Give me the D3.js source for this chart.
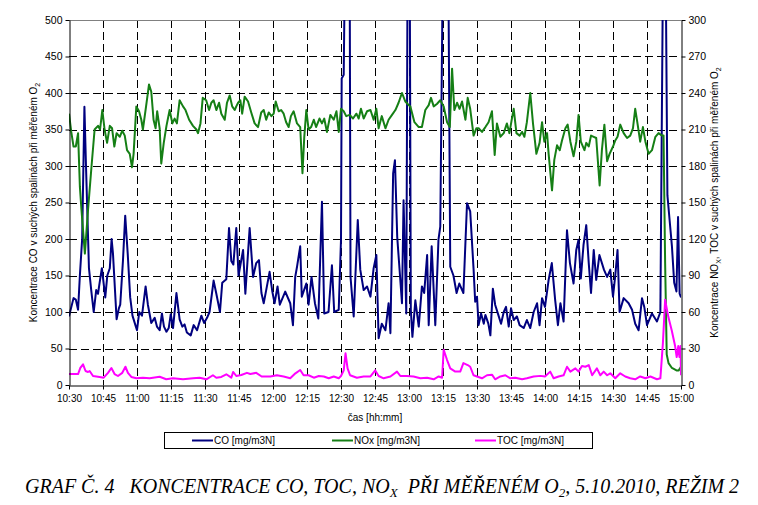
<!DOCTYPE html>
<html>
<head>
<meta charset="utf-8">
<script src="https://cdn.jsdelivr.net/npm/d3@7"></script>
<style>
  body { margin: 0; background: #fff; }
  text { font-family: "Liberation Sans", Arial, sans-serif; }
</style>
</head>
<body>
<svg id="chart" width="758" height="505"></svg>
<script>
// minutes after 10:30, value
const coData = [[0,94],[2,119],[3,117],[4,103],[4.8,150],[5.8,200],[6.8,381],[7.5,300],[8.8,160],[9.8,130],[10.9,100],[12,130],[12.8,125],[13.5,140],[14.5,160],[16,120],[16.9,150],[18,160],[18.8,200],[19.4,180],[21,90],[22,105],[22.6,110],[23.8,170],[24.8,232],[25.9,180],[27,120],[28,95],[29.5,80],[30,75],[31,100],[32.2,95],[33.8,135],[34.8,110],[36.3,85],[37.8,92],[38.8,80],[40,75],[41,98],[41.9,80],[43,73],[44,78],[44.9,97],[45.9,78],[47.4,126],[48.8,90],[50,80],[51,83],[52,72],[53.7,68],[55,82],[56.5,75],[58.4,95],[59.6,85],[60.9,92],[62,100],[63.8,143],[65,125],[66.6,100],[67.6,140],[69.4,145],[70.6,215],[71.6,170],[72.5,165],[73.8,215],[74.8,150],[76.8,185],[77.8,125],[79.7,215],[81.2,148],[82.6,167],[83.8,171],[84.9,126],[85.9,112],[87,130],[88.5,155],[89.7,128],[90.7,112],[92,135],[93,110],[95.4,128],[97.6,112],[98.8,82],[99.8,148],[100.6,162],[102,190],[102.7,121],[104.7,139],[105.7,110],[107,148],[108.5,112],[110,91],[111.6,251],[112.6,98],[114.5,100],[116,164],[117,100],[119,103],[120,199],[120.3,420],[121.2,425],[121.8,600],[123.8,600],[124.2,148],[125.6,94],[127.4,226],[128.5,158],[130,130],[131.5,135],[133,121],[134.4,160],[135.6,178],[136.6,64],[138,84],[139.6,75],[141,112],[141.8,71],[143,290],[143.8,308],[144.8,203],[146.9,112],[147.6,253],[148.8,98],[149.4,600],[150.3,600],[150.8,103],[151.5,66],[152.8,116],[154.3,80],[155.7,135],[156.7,126],[158,178],[158.7,82],[160,190],[161.6,82],[163,199],[163.8,217],[165,600],[167.3,600],[168.2,162],[169.6,150],[171,126],[172.2,139],[174,126],[175.6,249],[177,238],[178.5,158],[179.2,114],[180,121],[180.7,82],[181.8,98],[183,84],[183.7,96],[185,84],[185.9,68],[187,132],[188,110],[189.4,96],[190.6,84],[191.8,100],[192.8,107],[194,80],[195,105],[196.2,89],[197.6,94],[198.8,82],[200.6,78],[202,89],[203.5,78],[205,100],[206.5,112],[207.6,82],[208.7,119],[210,107],[211.6,144],[213,167],[214.5,116],[215.7,82],[216.8,112],[218.2,87],[219.7,212],[221,167],[222.6,139],[223.8,185],[224.8,199],[225.8,146],[227,192],[228.2,219],[229.3,167],[230.3,126],[231.5,185],[232.6,144],[234,178],[236,158],[237.4,148],[238.8,158],[240,121],[241,150],[242,185],[242.9,100],[244.7,119],[246.9,112],[248.4,103],[249.8,84],[251.3,75],[252.8,119],[253.8,107],[255,82],[257.2,98],[259.4,87],[260.9,100],[262,550],[263.3,550],[264,260],[265,225],[266,190],[267,140],[268,128],[268.7,230],[269.4,125],[270,120]];

const noxData = [[0,223],[1,208],[2,196],[3,196],[4,207],[4.8,163],[5.5,144],[7,108],[8.4,144],[9.9,179],[11.3,210],[12.8,213],[13.7,210],[14.7,226],[15.7,210],[16.8,199],[18,213],[19,211],[20,196],[21,207],[22.4,204],[23.5,209],[24.6,205],[25.6,193],[26.8,190],[27.8,179],[28.5,190],[29.7,229],[30.9,225],[31.9,218],[32.6,210],[34,229],[35.3,247],[36.3,241],[37.3,218],[38.2,211],[38.9,225],[40,211],[40.7,182],[41.8,199],[43,213],[44.4,226],[45.6,215],[46.6,219],[47.6,215],[48.8,234],[50.3,229],[51.4,226],[53,218],[54.7,213],[56.2,210],[56.9,207],[58,215],[59,236],[60.5,234],[61.8,226],[62.8,232],[63.8,234],[65,226],[66.2,232],[67.2,223],[68.7,218],[69.7,232],[70.9,238],[72,229],[73.1,226],[73.8,229],[74.6,232],[75.6,234],[76.4,223],[77.5,237],[79,233],[80.4,224],[81.9,215],[83.4,212],[84.8,224],[85.9,226],[87,218],[88.1,224],[89.3,221],[90.3,223],[91.2,233],[92.5,225],[93.6,226],[94.7,223],[95.8,216],[96.9,212],[97.9,221],[99.1,225],[100.6,215],[102,212],[103,174],[103.8,204],[104.7,226],[105.7,210],[106.8,212],[108,218],[109,212],[110.5,219],[111.6,215],[112.6,219],[113.8,208],[115.3,222],[116.8,218],[118,225],[119,208],[120,227],[121.2,225],[122.3,221],[123.8,222],[125.3,219],[126.8,223],[127.8,219],[128.8,227],[130,219],[131.5,225],[133,226],[134.4,218],[135.6,227],[136.6,211],[138,221],[139.6,211],[141,218],[142.5,222],[144,226],[145.4,232],[146.9,240],[148.4,233],[149.4,231],[150.6,229],[152.4,216],[154.3,212],[155.7,212],[157.2,226],[158.7,230],[159.7,236],[160.9,229],[162.3,231],[163.8,234],[165.3,229],[166.8,216],[168,212],[169,260],[170,226],[171.2,232],[172.3,227],[173.4,233],[174.9,218],[175.9,236],[177,227],[178.5,205],[179.7,211],[180.7,211],[182.2,208],[183.7,212],[185.1,216],[186.6,225],[187.8,189],[188.8,215],[190.3,204],[191.8,207],[193.2,215],[194.3,207],[195.4,219],[196.2,227],[197.4,207],[198.8,205],[199.9,208],[200.9,204],[202,216],[203.5,240],[204.7,215],[206.2,190],[207.6,199],[208.7,216],[209.7,200],[210.9,207],[211.6,190],[213.1,160],[214.1,185],[215.3,197],[216.5,193],[217.5,201],[219,211],[220,214],[221.2,200],[222.6,188],[223.8,200],[224.8,222],[225.8,200],[227.4,193],[228.2,199],[229.3,196],[230.3,205],[231.5,204],[232.6,203],[234.1,164],[235.1,193],[236.2,214],[237.4,184],[238.5,190],[240,196],[241,201],[242,204],[243.2,214],[244.7,207],[246.2,203],[247.6,205],[248.8,211],[249.8,227],[250.8,215],[252,200],[253.2,212],[254.3,200],[255.7,190],[257.2,193],[258.7,204],[260.1,207],[261.6,205],[262.3,205],[263,100],[263.7,25],[264.5,18],[266,14],[268,12],[269,12],[270,15]];

const tocData = [[0,9],[2,9],[4,9],[5,14],[6.2,17],[7.3,11.5],[8.4,10.7],[9.1,11.5],[10.6,7.4],[13.5,6.6],[15.3,6],[17.2,10],[18.7,14],[20.1,9],[21.6,7.4],[23.5,10],[24.9,15],[26,10],[27.5,6.6],[29.7,5.5],[32.6,6],[35.6,5.5],[40,6.8],[42.9,4.7],[45.9,5.5],[50.3,4.7],[54.7,5.5],[57.6,6],[60.6,4.7],[63.5,8],[65,6],[67.2,6.6],[69.4,8.8],[71.6,6],[72.4,10.7],[73.8,7.4],[76,8.2],[78.5,10],[80,9],[82.6,10],[85,7],[88.8,7],[91.7,8],[94.7,7],[97.6,5.5],[99.9,9.6],[102,12.3],[103.5,8],[105.7,8],[108,6],[110.2,7.4],[112.4,7],[114.6,5.5],[116.8,7],[119,5.5],[120,7.4],[121.2,12],[122,26],[122.9,13.7],[124,8],[127,6],[130,7],[133,7],[135.1,12],[136.6,7.4],[138.8,5.5],[141.8,7],[144.7,11],[146.2,7.4],[149.1,7.4],[152,7],[155,5.5],[158,6],[160.9,4.7],[163.1,7],[164.6,6],[165.3,29],[166.8,20.5],[168.2,13.7],[170.4,11],[172.6,11],[174,18],[175.9,16.4],[177,15],[178.5,8],[180,7],[182.2,5.5],[184.4,8],[186.6,8.5],[188,4.7],[190.3,7],[192.5,8],[194.7,5.5],[196.9,6],[199.9,4.7],[202,5.5],[205,7],[208,7.5],[210,7],[212.3,11],[213.8,5.5],[216,7],[218.2,8],[219.7,15],[221.2,11],[223.4,13.7],[224.8,11],[226.3,15.6],[227.8,15],[229.3,16.4],[230.8,8],[232.9,13.7],[234.4,8],[235.9,11],[237.4,8],[238.8,9.6],[241,5.5],[243.2,9.6],[245.4,7],[247.6,5.5],[249.8,4.7],[252,7],[254.3,5.5],[256.5,7],[259.4,4.7],[260.9,5.5],[262,34],[263,70],[264.4,56],[265.9,45],[267.4,32],[268.1,23],[268.8,32],[269.3,23],[269.8,32],[270,8]];

const timeLabels = ["10:30","10:45","11:00","11:15","11:30","11:45","12:00","12:15","12:30","12:45","13:00","13:15","13:30","13:45","14:00","14:15","14:30","14:45","15:00"];
const leftTicks = [0,50,100,150,200,250,300,350,400,450,500];
const rightTicks = [0,30,60,90,120,150,180,210,240,270,300];
const seriesNames = ["CO [mg/m3N]","NOx [mg/m3N]","TOC [mg/m3N]"];
const seriesColors = ["#00007f","#157f15","#ff00ff"];

const svg = d3.select("#chart");
const plotLeft = 69, plotRight = 681, plotTop = 20, plotBottom = 385;

const x = d3.scaleLinear().domain([0, 270]).range([plotLeft, plotRight]);
const yL = d3.scaleLinear().domain([0, 500]).range([plotBottom, plotTop]);
const yR = d3.scaleLinear().domain([0, 300]).range([plotBottom, plotTop]);
const tickMin = timeLabels.map((d, i) => i * 15);

svg.append("rect").attr("width", 758).attr("height", 505).attr("fill", "#fff");

svg.append("defs").append("clipPath").attr("id", "plotclip")
  .append("rect").attr("x", plotLeft).attr("y", plotTop)
  .attr("width", plotRight - plotLeft).attr("height", plotBottom - plotTop);

// grid
const grid = svg.append("g").attr("stroke", "#000").attr("stroke-width", 1).attr("stroke-dasharray", "8,4");
grid.selectAll(".h").data(leftTicks.slice(1, -1)).join("line")
  .attr("x1", plotLeft).attr("x2", plotRight)
  .attr("y1", d => Math.round(yL(d)) + 0.5).attr("y2", d => Math.round(yL(d)) + 0.5);
grid.selectAll(".v").data(tickMin.slice(1, -1)).join("line")
  .attr("y1", plotTop).attr("y2", plotBottom)
  .attr("x1", d => Math.round(x(d)) + 0.5).attr("x2", d => Math.round(x(d)) + 0.5);

svg.append("line").attr("x1", plotLeft).attr("x2", plotRight)
  .attr("y1", plotTop + 0.5).attr("y2", plotTop + 0.5)
  .attr("stroke", "#808080").attr("stroke-width", 1);

// lines
const plot = svg.append("g").attr("clip-path", "url(#plotclip)");
const series = [
  { data: coData, y: yL },
  { data: noxData, y: yR },
  { data: tocData, y: yR }
];
series.forEach((s, i) => {
  const line = d3.line().x(d => x(d[0])).y(d => s.y(d[1]));
  plot.append("path")
    .attr("d", line(s.data))
    .attr("fill", "none")
    .attr("stroke", seriesColors[i])
    .attr("stroke-width", 2)
    .attr("stroke-linejoin", "round");
});

// axes
function styleAxis(g, size) {
  g.select(".domain").attr("stroke", "#000");
  g.selectAll(".tick line").attr("stroke", "#000");
  g.selectAll(".tick text").attr("fill", "#000").style("font-size", size)
    .style("font-family", "'Liberation Sans', Arial, sans-serif");
}

svg.append("g").attr("transform", `translate(${plotLeft + 0.5},0)`)
  .call(d3.axisLeft(yL).tickValues(leftTicks).tickSize(4).tickPadding(3).tickSizeOuter(0))
  .call(g => styleAxis(g, "10.5px"));

svg.append("g").attr("transform", `translate(${plotRight + 0.5},0)`)
  .call(d3.axisRight(yR).tickValues(rightTicks).tickSize(4).tickPadding(3).tickSizeOuter(0))
  .call(g => styleAxis(g, "10.5px"));

svg.append("g").attr("transform", `translate(0,${plotBottom + 0.5})`)
  .call(d3.axisBottom(x).tickValues(tickMin).tickFormat((d, i) => timeLabels[i]).tickSize(4).tickPadding(5).tickSizeOuter(0))
  .call(g => styleAxis(g, "10px"));

// axis titles
const midY = (plotTop + plotBottom) / 2;
const leftTitle = svg.append("text").attr("transform", `translate(37,${midY}) rotate(-90)`)
  .attr("text-anchor", "middle").style("font-size", "10px");
leftTitle.append("tspan").text("Koncentrace CO v suchých spalinách při měřeném O");
leftTitle.append("tspan").attr("dy", 3).style("font-size", "7px").text("2");

const rightTitle = svg.append("text").attr("transform", `translate(718,${midY}) rotate(-90)`)
  .attr("text-anchor", "middle").style("font-size", "10px");
rightTitle.append("tspan").text("Koncentrace NO");
rightTitle.append("tspan").attr("dy", 3).style("font-size", "7px").text("X");
rightTitle.append("tspan").attr("dy", -3).text(", TOC v suchých spalinách při měřeném O");
rightTitle.append("tspan").attr("dy", 3).style("font-size", "7px").text("2");

svg.append("text").attr("x", (plotLeft + plotRight) / 2).attr("y", 421)
  .attr("text-anchor", "middle").style("font-size", "10px").text("čas [hh:mm]");

// legend
svg.append("rect").attr("x", 164.5).attr("y", 432.5).attr("width", 428).attr("height", 16)
  .attr("fill", "#fff").attr("stroke", "#000").attr("stroke-width", 1);
const legendX = [192, 332, 475];
seriesNames.forEach((name, i) => {
  svg.append("line").attr("x1", legendX[i]).attr("x2", legendX[i] + 21)
    .attr("y1", 440.5).attr("y2", 440.5)
    .attr("stroke", seriesColors[i]).attr("stroke-width", 2);
  svg.append("text").attr("x", legendX[i] + 22).attr("y", 444)
    .style("font-size", "10px").text(name);
});

// caption
const cap = svg.append("text").attr("x", 25).attr("y", 493)
  .attr("xml:space", "preserve")
  .style("font-family", "'Liberation Serif', 'Times New Roman', serif")
  .style("font-style", "italic").style("font-size", "20px");
cap.append("tspan").text("GRAF Č. 4   KONCENTRACE CO, TOC, NO");
cap.append("tspan").attr("dy", 4).style("font-size", "13px").text("X");
cap.append("tspan").attr("dy", -4).text("  PŘI MĚŘENÉM O");
cap.append("tspan").attr("dy", 4).style("font-size", "13px").text("2");
cap.append("tspan").attr("dy", -4).text(", 5.10.2010, REŽIM 2");
</script>
</body>
</html>
